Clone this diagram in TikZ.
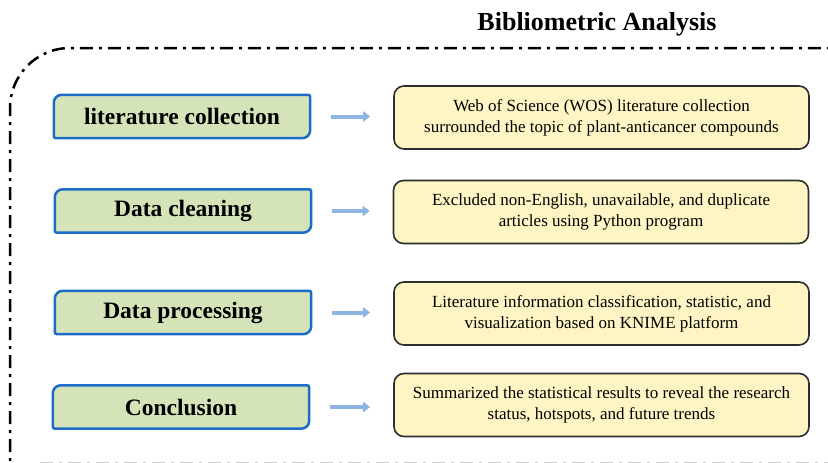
\documentclass[tikz,border=0pt]{standalone}
\usepackage{fontspec}
\setmainfont{Liberation Serif}
\usetikzlibrary{arrows.meta,backgrounds}

\definecolor{stepgreen}{RGB}{212,228,184}
\definecolor{stepblue}{RGB}{28,108,200}
\definecolor{noteyellow}{RGB}{255,245,196}
\definecolor{noteedge}{RGB}{45,45,45}
\definecolor{arrowblue}{RGB}{141,180,226}

\tikzset{
  stepbox/.style={minimum width=256pt, minimum height=43pt, inner sep=0pt,
    font=\fontsize{23.5}{26}\selectfont\bfseries},
  notebox/.style={draw=noteedge, line width=1.6pt, fill=noteyellow,
    rounded corners=10pt, minimum width=415pt, minimum height=63pt,
    inner sep=0pt, align=center,
    font=\fontsize{17}{21}\selectfont},
  flow/.style={draw=arrowblue, line width=4pt,
    -{Triangle[length=7pt,width=10pt]},
    shorten <=21pt, shorten >=23pt},
  frame/.style={line width=2.5pt, line cap=butt,
    dash pattern=on 13pt off 6pt on 3pt off 6pt},
}

% Step box outline: large rounding top-left and bottom-right, small elsewhere
\newcommand\stepframe[1]{%
  \begin{pgfonlayer}{background}
  \filldraw[fill=stepgreen, draw=stepblue, line width=2.5pt]
    ([yshift=-8pt]#1.north west) arc[start angle=180,end angle=90,radius=8pt]
    -- ([xshift=-2pt]#1.north east) arc[start angle=90,end angle=0,radius=2pt]
    -- ([yshift=8pt]#1.south east) arc[start angle=0,end angle=-90,radius=8pt]
    -- ([xshift=2pt]#1.south west) arc[start angle=270,end angle=180,radius=2pt]
    -- cycle;
  \end{pgfonlayer}}

\begin{document}
\begin{tikzpicture}[x=1pt, y=-1pt]
  \useasboundingbox (0,0) rectangle (828,463);
  \clip (0,0) rectangle (828,463);

  % outer dash-dot frame
  \draw[frame] (10,480) -- (10,108) arc[start angle=180,end angle=90,radius=60pt]
    -- (900,48);
  \draw[frame, gray!40, line width=1.5pt] (40,462.3) -- (828,462.3);

  \node[font=\fontsize{26}{30}\selectfont\bfseries] (title) at (597,24) {Bibliometric Analysis};

  % steps
  \node[stepbox] (s1) at (182,116.5) {literature collection};
  \node[stepbox] (s2) at (183,211)   {Data cleaning};
  \node[stepbox] (s3) at (183,312.5) {Data processing};
  \node[stepbox] (s4) at (181,407)   {Conclusion};
  \stepframe{s1}\stepframe{s2}\stepframe{s3}\stepframe{s4}

  % descriptions
  \node[notebox] (n1) at (601.5,117.5) {Web of Science (WOS) literature collection\\surrounded the topic of plant-anticancer compounds};
  \node[notebox] (n2) at (601,212)     {Excluded non-English, unavailable, and duplicate\\articles using Python program};
  \node[notebox] (n3) at (601.5,313.5) {Literature information classification, statistic, and\\visualization based on KNIME platform};
  \node[notebox] (n4) at (601.5,405)   {Summarized the statistical results to reveal the research\\status, hotspots, and future trends};

  % arrows
  \draw[flow] (s1.east) -- (s1.east -| n1.west);
  \draw[flow] (s2.east) -- (s2.east -| n2.west);
  \draw[flow] (s3.east) -- (s3.east -| n3.west);
  \draw[flow] (s4.east) -- (s4.east -| n4.west);
\end{tikzpicture}
\end{document}
